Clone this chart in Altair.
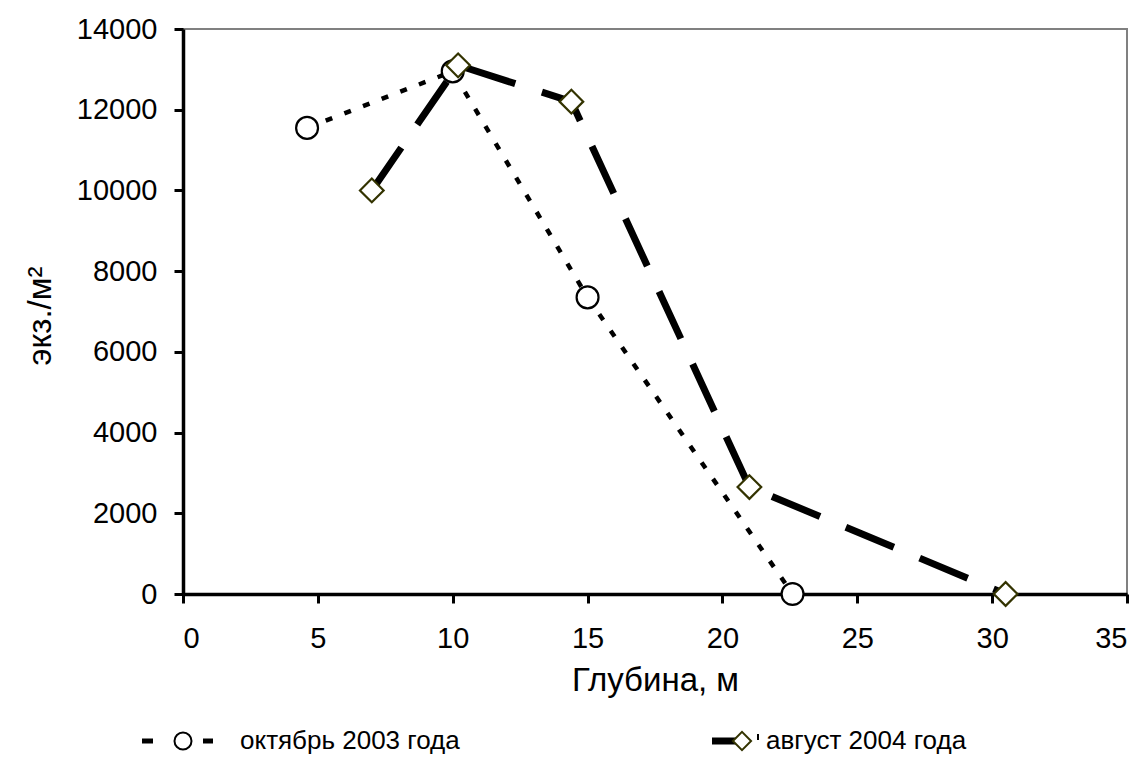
import altair as alt
import pandas as pd

# Data
oct_depth = [4.6, 10.0, 15.0, 22.6]
oct_vals = [11550, 12950, 7350, 0]
aug_depth = [7.0, 10.2, 14.4, 21.0, 30.5]
aug_vals = [10000, 13100, 12200, 2650, 0]

x_ticks = [0, 5, 10, 15, 20, 25, 30, 35]
y_ticks = [0, 2000, 4000, 6000, 8000, 10000, 12000, 14000]

FONT = "Liberation Sans"
W, H = 944, 565

oct_df = pd.DataFrame({"depth": oct_depth, "val": oct_vals})
aug_df = pd.DataFrame({"depth": aug_depth, "val": aug_vals})

xs = alt.Scale(domain=[0, 35], nice=False, zero=False)
ys = alt.Scale(domain=[0, 14000], nice=False)

xaxis = alt.Axis(values=x_ticks, title="Глубина, м", titleY=86, titleBaseline="middle",
                 labelPadding=21, format="d")
yaxis = alt.Axis(values=y_ticks, title="экз./м²", titleX=-143, titleY=H / 2 + 4,
                 titleAlign="center", titleBaseline="middle", labelPadding=17, format="d")

X = alt.X("depth:Q", scale=xs, axis=xaxis)
Y = alt.Y("val:Q", scale=ys, axis=yaxis)

oct_line = alt.Chart(oct_df).mark_line(color="black", strokeWidth=4.5, strokeDash=[7, 13]).encode(x=X, y=Y)
aug_line = alt.Chart(aug_df).mark_line(color="black", strokeWidth=7, strokeDash=[52, 28]).encode(x=X, y=Y)
oct_pts = alt.Chart(oct_df).mark_point(shape="circle", size=480, filled=True, fill="white",
                                       stroke="black", strokeWidth=2.2, opacity=1).encode(x=X, y=Y)
aug_pts = alt.Chart(aug_df).mark_point(shape="diamond", size=560, filled=True, fill="white",
                                       stroke="#333300", strokeWidth=2.2, opacity=1).encode(x=X, y=Y)

# Manual legend (below the plot)
one = pd.DataFrame({"k": [0]})
LY = 741 - 29
leg_oct_dash1 = alt.Chart(one).mark_rule(color="black", strokeWidth=5).encode(
    x=alt.value(142 - 183), x2=alt.value(153 - 183), y=alt.value(LY))
leg_oct_dash2 = alt.Chart(one).mark_rule(color="black", strokeWidth=5).encode(
    x=alt.value(203 - 183), x2=alt.value(213 - 183), y=alt.value(LY))
leg_oct_pt = alt.Chart(one).mark_point(shape="circle", size=290, filled=True, fill="white",
                                       stroke="black", strokeWidth=2, opacity=1).encode(
    x=alt.value(0), y=alt.value(LY))
leg_oct_txt = alt.Chart(one).mark_text(align="left", baseline="middle", font=FONT, fontSize=26,
                                       color="black").encode(
    x=alt.value(240 - 183), y=alt.value(LY), text=alt.value("октябрь 2003 года"))

leg_aug_line = alt.Chart(one).mark_rule(color="black", strokeWidth=7).encode(
    x=alt.value(712 - 183), x2=alt.value(742 - 183), y=alt.value(LY))
leg_aug_pt = alt.Chart(one).mark_point(shape="diamond", size=330, filled=True, fill="white",
                                       stroke="#333300", strokeWidth=2, opacity=1).encode(
    x=alt.value(742 - 183), y=alt.value(LY))
leg_aug_tick = alt.Chart(one).mark_rule(color="black", strokeWidth=2).encode(
    x=alt.value(758 - 183), y=alt.value(LY - 7), y2=alt.value(LY - 1))
leg_aug_txt = alt.Chart(one).mark_text(align="left", baseline="middle", font=FONT, fontSize=26,
                                       color="black").encode(
    x=alt.value(766 - 183), y=alt.value(LY), text=alt.value("август 2004 года"))

chart = alt.layer(
    oct_line, aug_line, oct_pts, aug_pts,
    leg_oct_dash1, leg_oct_dash2, leg_oct_pt, leg_oct_txt,
    leg_aug_line, leg_aug_pt, leg_aug_tick, leg_aug_txt,
).properties(
    width=W, height=H,
    autosize="none",
    background="white",
    padding={"left": 175, "top": 21, "right": 12, "bottom": 164},
).configure_view(
    stroke="#808080", strokeWidth=2
).configure_axis(
    grid=False,
    domainColor="black", domainWidth=3.5,
    tickColor="black", tickWidth=3, tickSize=9,
    labelFont=FONT, labelFontSize=29, labelColor="black",
    titleFont=FONT, titleFontSize=33, titleFontWeight="normal", titleColor="black",
)

chart.save("out.html", embed_options={"renderer": "svg", "actions": False})
